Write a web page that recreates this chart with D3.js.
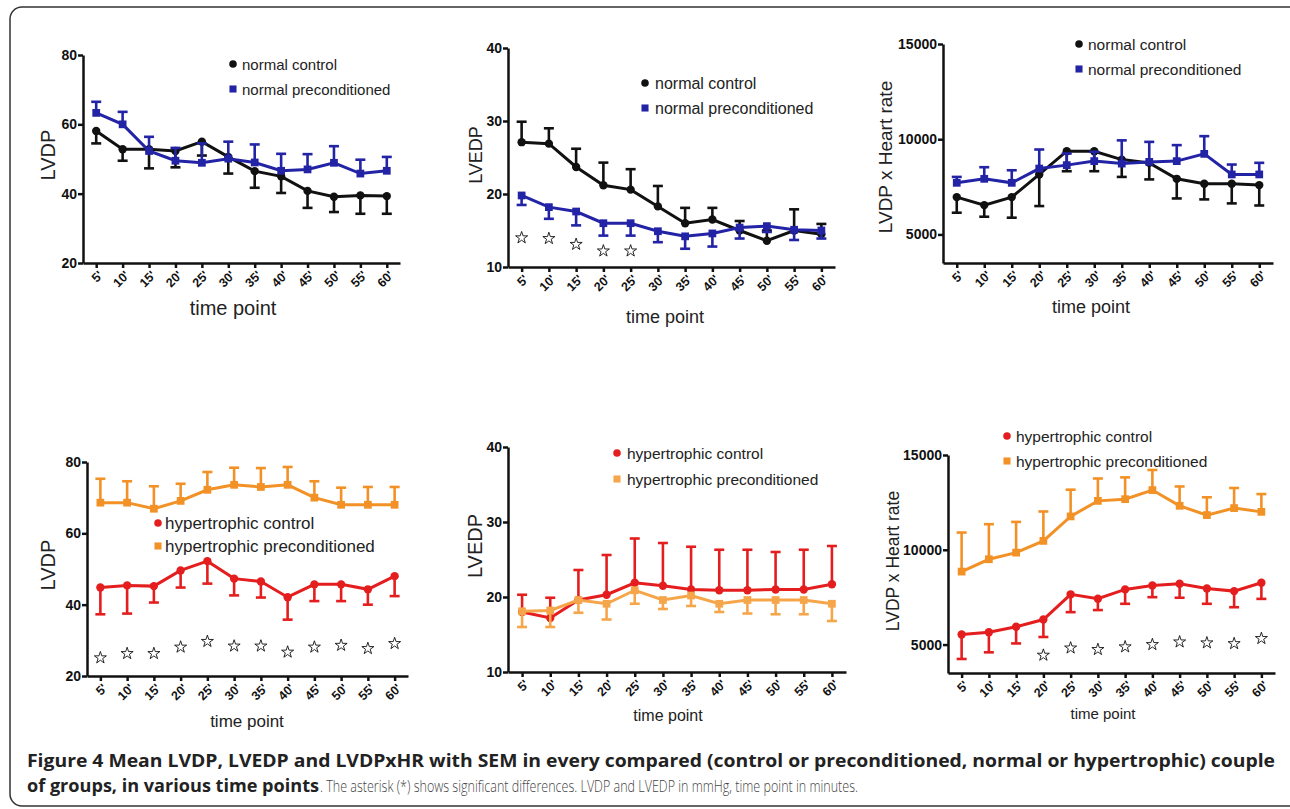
<!DOCTYPE html>
<html lang="en">
<head>
<meta charset="UTF-8">
<title>Figure 4</title>
<script src="https://d3js.org/d3.v7.min.js"></script>
<style>
  body { margin: 0; background: #fff; }
  svg { display: block; }
  .axis text { font-family: "Liberation Sans", Arial, sans-serif; font-weight: bold; fill: #111; }
  .title { font-family: "Liberation Sans", Arial, sans-serif; fill: #222; }
  .caption { font-family: "Open Sans", sans-serif; }
</style>
</head>
<body>
<svg width="1290" height="809"></svg>
<script>
const timePoints = ["5'", "10'", "15'", "20'", "25'", "30'", "35'", "40'", "45'", "50'", "55'", "60'"];

// normal hearts
const lvdpNormCtrl = [58.1, 52.8, 52.8, 52.3, 55.0, 50.6, 46.5, 45.0, 40.8, 39.1, 39.5, 39.3];
const lvdpNormCtrlSem = [3.6, 3.3, 5.5, 4.7, 4.0, 4.8, 4.8, 4.8, 4.9, 4.4, 5.3, 5.1];
const lvdpNormPre = [63.3, 60.0, 52.3, 49.5, 48.9, 50.1, 49.0, 46.6, 47.0, 48.9, 45.8, 46.6];
const lvdpNormPreSem = [3.2, 3.6, 4.1, 3.7, 5.6, 4.9, 5.2, 4.9, 4.4, 4.8, 4.0, 4.0];

const lvedpNormCtrl = [27.1, 26.9, 23.7, 21.2, 20.6, 18.3, 16.0, 16.5, 15.0, 13.6, 15.0, 14.5];
const lvedpNormCtrlSem = [2.8, 2.1, 2.5, 3.1, 2.8, 2.8, 2.1, 1.6, 1.3, 1.4, 2.9, 1.4];
const lvedpNormPre = [19.8, 18.2, 17.6, 16.0, 16.0, 14.9, 14.2, 14.6, 15.4, 15.6, 15.1, 15.0];
const lvedpNormPreSem = [1.3, 1.6, 1.9, 1.7, 1.7, 1.5, 1.7, 1.8, 1.5, 0.8, 1.4, 1.1];
const lvedpNormStars = [14.0, 13.9, 13.1, 12.2, 12.2];          // 5' .. 25'

const hrNormCtrl = [6960, 6540, 6960, 8150, 9370, 9370, 8930, 8760, 7920, 7660, 7660, 7590];
const hrNormCtrlSem = [820, 610, 1080, 1660, 1050, 1050, 910, 870, 1030, 820, 1030, 1070];
const hrNormPre = [7710, 7920, 7710, 8460, 8640, 8850, 8720, 8810, 8850, 9230, 8150, 8150];
const hrNormPreSem = [310, 610, 660, 1000, 610, 490, 1220, 1050, 840, 930, 520, 610];

// hypertrophic hearts
const lvdpHypCtrl = [44.8, 45.4, 45.2, 49.6, 52.2, 47.3, 46.5, 42.1, 45.7, 45.7, 44.3, 48.0];
const lvdpHypCtrlSem = [7.5, 7.9, 4.6, 4.8, 6.3, 4.7, 4.5, 6.3, 4.7, 4.7, 4.3, 5.6];
const lvdpHypPre = [68.6, 68.6, 66.9, 69.1, 72.2, 73.6, 73.0, 73.6, 70.0, 68.0, 68.0, 68.0];
const lvdpHypPreSem = [6.7, 6.0, 6.3, 4.8, 5.0, 4.8, 5.3, 5.0, 4.6, 4.8, 5.0, 5.0];
const lvdpHypStars = [25.1, 26.3, 26.3, 28.1, 29.7, 28.4, 28.4, 26.7, 28.1, 28.6, 27.7, 29.1];  // 5' .. 60'

const lvedpHypCtrl = [18.0, 17.2, 19.6, 20.3, 21.9, 21.5, 21.0, 20.9, 20.9, 21.0, 21.0, 21.7];
const lvedpHypCtrlSem = [2.3, 2.7, 4.0, 5.3, 5.9, 5.7, 5.7, 5.4, 5.4, 5.0, 5.3, 5.1];
const lvedpHypPre = [18.1, 18.2, 19.6, 19.1, 20.9, 19.6, 20.2, 19.1, 19.6, 19.6, 19.6, 19.1];
const lvedpHypPreSem = [2.1, 2.2, 1.7, 2.1, 1.8, 1.2, 1.4, 1.1, 1.8, 1.9, 1.9, 2.3];

const hrHypCtrl = [5530, 5650, 5940, 6320, 7650, 7420, 7910, 8120, 8210, 7960, 7820, 8260];
const hrHypCtrlSem = [1290, 1060, 880, 920, 940, 600, 760, 620, 740, 810, 850, 850];
const hrHypPre = [8850, 9500, 9850, 10470, 11760, 12580, 12670, 13150, 12320, 11830, 12200, 12000];
const hrHypPreSem = [2060, 1850, 1620, 1550, 1410, 1180, 1150, 1060, 1020, 940, 1060, 940];
const hrHypStars = [4440, 4820, 4740, 4880, 5000, 5140, 5090, 5050, 5320];  // 20' .. 60'

const BLACK = "#111";
const BLUE = "#2323a6";
const RED = "#e41e1e";
const ORANGE = "#f29126";
const LIGHT_ORANGE = "#f6a64a";

const svg = d3.select("svg");

// frame
svg.append("rect")
  .attr("x", 10).attr("y", 7)
  .attr("width", 1310).attr("height", 799)
  .attr("rx", 12)
  .attr("fill", "none")
  .attr("stroke", "#333")
  .attr("stroke-width", 1.5);

function drawPanel(p) {
  const g = svg.append("g");

  const x = d3.scalePoint()
    .domain(timePoints)
    .range([p.left, p.right])
    .padding(0.5);

  const y = d3.scaleLinear()
    .domain(p.yDomain)
    .range([p.bottom, p.top]);

  // axes
  const yAxis = g.append("g")
    .attr("class", "axis")
    .attr("transform", `translate(${p.left},0)`)
    .call(d3.axisLeft(y).tickValues(p.yTicks).tickFormat(d3.format("d")).tickSize(5).tickSizeOuter(0));
  yAxis.selectAll("text").style("font-size", "14px").attr("dx", 2);

  const xAxis = g.append("g")
    .attr("class", "axis")
    .attr("transform", `translate(0,${p.bottom})`)
    .call(d3.axisBottom(x).tickSize(5).tickSizeOuter(0));
  xAxis.selectAll("text")
    .style("font-size", "12.5px")
    .attr("text-anchor", "end")
    .attr("y", 0)
    .attr("dy", "0.35em")
    .attr("transform", "translate(4,10) rotate(-45)");

  g.selectAll(".domain, .tick line").attr("stroke", BLACK).attr("stroke-width", 2.5);

  // titles
  g.append("text")
    .attr("class", "title")
    .attr("x", p.xTitleX)
    .attr("y", p.xTitleY)
    .attr("text-anchor", "middle")
    .style("font-size", p.xTitleSize + "px")
    .text("time point");

  g.append("text")
    .attr("class", "title")
    .attr("transform", `translate(${p.yTitleX},${p.yTitleY}) rotate(-90)`)
    .attr("text-anchor", "middle")
    .style("font-size", p.yTitleSize + "px")
    .text(p.yTitle);

  // series
  const line = d3.line()
    .x((d, i) => x(timePoints[i]))
    .y(d => y(d));

  p.series.forEach(s => {
    const sg = g.append("g");
    const color = s.color;

    sg.selectAll(".bar")
      .data(s.mean)
      .join("line")
      .attr("x1", (d, i) => x(timePoints[i]))
      .attr("x2", (d, i) => x(timePoints[i]))
      .attr("y1", d => y(d))
      .attr("y2", (d, i) => y(d + s.dir * s.sem[i]))
      .attr("stroke", color)
      .attr("stroke-width", 2.6);

    sg.selectAll(".cap")
      .data(s.mean)
      .join("line")
      .attr("x1", (d, i) => x(timePoints[i]) - 5)
      .attr("x2", (d, i) => x(timePoints[i]) + 5)
      .attr("y1", (d, i) => y(d + s.dir * s.sem[i]))
      .attr("y2", (d, i) => y(d + s.dir * s.sem[i]))
      .attr("stroke", color)
      .attr("stroke-width", 2.6);

    sg.append("path")
      .datum(s.mean)
      .attr("d", line)
      .attr("fill", "none")
      .attr("stroke", color)
      .attr("stroke-width", 3);

    const sym = d3.symbol().type(s.shape).size(s.shape === d3.symbolSquare ? 60 : 55);
    sg.selectAll(".pt")
      .data(s.mean)
      .join("path")
      .attr("d", sym)
      .attr("transform", (d, i) => `translate(${x(timePoints[i])},${y(d)})`)
      .attr("fill", color);
  });

  // significance stars
  if (p.stars) {
    g.selectAll(".star")
      .data(p.stars)
      .join("path")
      .attr("d", d3.symbol().type(d3.symbolStar).size(45))
      .attr("transform", (d, i) => `translate(${x(timePoints[i + p.starStart])},${y(d)})`)
      .attr("fill", "#fff")
      .attr("stroke", "#111")
      .attr("stroke-width", 0.9);
  }

  // legend
  p.series.forEach((s, i) => {
    const ly = p.legendY[i];
    g.append("path")
      .attr("d", d3.symbol().type(s.shape).size(s.shape === d3.symbolSquare ? 50 : 45))
      .attr("transform", `translate(${p.legendX},${ly})`)
      .attr("fill", s.color);
    g.append("text")
      .attr("class", "title")
      .attr("x", p.legendX + p.legendGap)
      .attr("y", ly)
      .attr("dominant-baseline", "central")
      .style("font-size", p.legendSize + "px")
      .text(s.name);
  });
}

drawPanel({
  left: 83, right: 400, top: 55, bottom: 263,
  yDomain: [20, 80], yTicks: [20, 40, 60, 80],
  yTitle: "LVDP", yTitleX: 55, yTitleY: 155, yTitleSize: 20,
  xTitleX: 233, xTitleY: 315, xTitleSize: 20,
  legendX: 233, legendGap: 9, legendY: [64, 89], legendSize: 15,
  series: [
    { name: "normal control", mean: lvdpNormCtrl, sem: lvdpNormCtrlSem, dir: -1, color: BLACK, shape: d3.symbolCircle },
    { name: "normal preconditioned", mean: lvdpNormPre, sem: lvdpNormPreSem, dir: 1, color: BLUE, shape: d3.symbolSquare }
  ]
});

drawPanel({
  left: 508, right: 835, top: 48, bottom: 267,
  yDomain: [10, 40], yTicks: [10, 20, 30, 40],
  yTitle: "LVEDP", yTitleX: 482, yTitleY: 155, yTitleSize: 18,
  xTitleX: 665, xTitleY: 323, xTitleSize: 18,
  legendX: 645, legendGap: 10, legendY: [83, 108], legendSize: 16,
  series: [
    { name: "normal control", mean: lvedpNormCtrl, sem: lvedpNormCtrlSem, dir: 1, color: BLACK, shape: d3.symbolCircle },
    { name: "normal preconditioned", mean: lvedpNormPre, sem: lvedpNormPreSem, dir: -1, color: BLUE, shape: d3.symbolSquare }
  ],
  stars: lvedpNormStars, starStart: 0
});

drawPanel({
  left: 943, right: 1273, top: 44, bottom: 263,
  yDomain: [3500, 15000], yTicks: [5000, 10000, 15000],
  yTitle: "LVDP x Heart rate", yTitleX: 892, yTitleY: 157, yTitleSize: 19,
  xTitleX: 1091, xTitleY: 313, xTitleSize: 18,
  legendX: 1079, legendGap: 9, legendY: [44, 69], legendSize: 15.5,
  series: [
    { name: "normal control", mean: hrNormCtrl, sem: hrNormCtrlSem, dir: -1, color: BLACK, shape: d3.symbolCircle },
    { name: "normal preconditioned", mean: hrNormPre, sem: hrNormPreSem, dir: 1, color: BLUE, shape: d3.symbolSquare }
  ]
});

drawPanel({
  left: 87, right: 408, top: 462, bottom: 676,
  yDomain: [20, 80], yTicks: [20, 40, 60, 80],
  yTitle: "LVDP", yTitleX: 55, yTitleY: 565, yTitleSize: 20,
  xTitleX: 247, xTitleY: 727, xTitleSize: 17,
  legendX: 158, legendGap: 7, legendY: [523, 546], legendSize: 17,
  series: [
    { name: "hypertrophic control", mean: lvdpHypCtrl, sem: lvdpHypCtrlSem, dir: -1, color: RED, shape: d3.symbolCircle },
    { name: "hypertrophic preconditioned", mean: lvdpHypPre, sem: lvdpHypPreSem, dir: 1, color: ORANGE, shape: d3.symbolSquare }
  ],
  stars: lvdpHypStars, starStart: 0
});

drawPanel({
  left: 508, right: 846, top: 447, bottom: 672,
  yDomain: [10, 40], yTicks: [10, 20, 30, 40],
  yTitle: "LVEDP", yTitleX: 482, yTitleY: 546, yTitleSize: 20,
  xTitleX: 668, xTitleY: 721, xTitleSize: 16,
  legendX: 617, legendGap: 10, legendY: [453, 479], legendSize: 15.5,
  series: [
    { name: "hypertrophic control", mean: lvedpHypCtrl, sem: lvedpHypCtrlSem, dir: 1, color: RED, shape: d3.symbolCircle },
    { name: "hypertrophic preconditioned", mean: lvedpHypPre, sem: lvedpHypPreSem, dir: -1, color: LIGHT_ORANGE, shape: d3.symbolSquare }
  ]
});

drawPanel({
  left: 948, right: 1275, top: 455, bottom: 673,
  yDomain: [3500, 15000], yTicks: [5000, 10000, 15000],
  yTitle: "LVDP x Heart rate", yTitleX: 899, yTitleY: 561, yTitleSize: 17.5,
  xTitleX: 1103, xTitleY: 719, xTitleSize: 15,
  legendX: 1007, legendGap: 9, legendY: [436, 461], legendSize: 15.5,
  series: [
    { name: "hypertrophic control", mean: hrHypCtrl, sem: hrHypCtrlSem, dir: -1, color: RED, shape: d3.symbolCircle },
    { name: "hypertrophic preconditioned", mean: hrHypPre, sem: hrHypPreSem, dir: 1, color: ORANGE, shape: d3.symbolSquare }
  ],
  stars: hrHypStars, starStart: 3
});

// caption
svg.append("text")
  .attr("class", "caption")
  .attr("x", 27).attr("y", 767)
  .attr("textLength", 1248)
  .attr("lengthAdjust", "spacingAndGlyphs")
  .style("font-size", "17px")
  .style("font-weight", "bold")
  .attr("fill", "#222")
  .text("Figure 4 Mean LVDP, LVEDP and LVDPxHR with SEM in every compared (control or preconditioned, normal or hypertrophic) couple");

svg.append("text")
  .attr("class", "caption")
  .attr("x", 27).attr("y", 792)
  .attr("textLength", 292)
  .attr("lengthAdjust", "spacingAndGlyphs")
  .style("font-size", "17px")
  .style("font-weight", "bold")
  .attr("fill", "#222")
  .text("of groups, in various time points");

svg.append("text")
  .attr("class", "caption")
  .attr("x", 320).attr("y", 792)
  .attr("textLength", 538)
  .attr("lengthAdjust", "spacingAndGlyphs")
  .style("font-size", "17px")
  .style("font-weight", "300")
  .attr("fill", "#444")
  .text(". The asterisk (*) shows significant differences. LVDP and LVEDP in mmHg, time point in minutes.");
</script>
</body>
</html>
